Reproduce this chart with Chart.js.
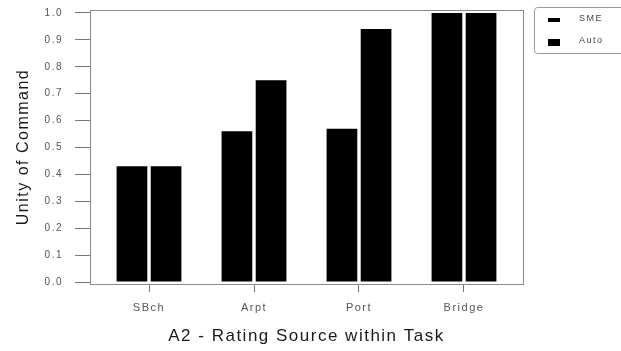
<!DOCTYPE html>
<html>
<head>
<meta charset="utf-8">
<script src="https://cdn.jsdelivr.net/npm/chart.js@4"></script>
<style>
  html, body { margin: 0; padding: 0; background: #fff; }
  #wrap { width: 621px; height: 351px; position: relative; }
</style>
</head>
<body>
<div id="wrap"><canvas id="chart"></canvas></div>
<script>
const categories = ['SBch', 'Arpt', 'Port', 'Bridge'];
const smeValues = [0.43, 0.56, 0.57, 1.0];
const autoValues = [0.43, 0.75, 0.94, 1.0];
const yTicks = [0, 0.1, 0.2, 0.3, 0.4, 0.5, 0.6, 0.7, 0.8, 0.9, 1.0];

const font = '"Liberation Sans", Arial, sans-serif';

// the scanned labels are loosely spaced
const spacingPlugin = {
    id: 'spacing',
    beforeDraw(chart) { chart.ctx.letterSpacing = '1.5px'; }
};

// grey frame round the plot area
const framePlugin = {
    id: 'frame',
    afterDraw(chart) {
        const a = chart.chartArea;
        const ctx = chart.ctx;
        ctx.save();
        ctx.strokeStyle = '#8a8a8a';
        ctx.lineWidth = 1;
        ctx.strokeRect(Math.round(a.left) + 0.5, Math.round(a.top) + 0.5,
            Math.round(a.right - a.left), Math.round(a.bottom - a.top));
        ctx.restore();
    }
};

// boxed legend at the top right, partly cut by the edge
const legendPlugin = {
    id: 'boxLegend',
    afterDraw(chart) {
        const ctx = chart.ctx;
        const x = chart.chartArea.right + 11;
        const y = 7;
        ctx.save();
        ctx.strokeStyle = '#9a9a9a';
        ctx.lineWidth = 1;
        ctx.beginPath();
        ctx.roundRect(x + 0.5, y + 0.5, 120, 46, 3);
        ctx.stroke();
        ctx.font = '9px ' + font;
        ctx.textBaseline = 'middle';
        const markH = [4, 7];
        chart.data.datasets.forEach((ds, i) => {
            const cy = y + 13 + i * 22;
            ctx.fillStyle = ds.backgroundColor;
            ctx.fillRect(x + 14, Math.round(cy - markH[i] / 2), 12, markH[i]);
            ctx.fillStyle = '#444';
            ctx.fillText(ds.label, x + 45, cy - 1);
        });
        ctx.restore();
    }
};

const ctx = document.getElementById('chart').getContext('2d');
new Chart(ctx, {
    type: 'bar',
    data: {
        labels: categories,
        datasets: [
            {
                label: 'SME',
                data: smeValues,
                backgroundColor: '#000',
                borderWidth: 0,
                categoryPercentage: 0.65,
                barPercentage: 0.9
            },
            {
                label: 'Auto',
                data: autoValues,
                backgroundColor: '#000',
                borderWidth: 0,
                categoryPercentage: 0.65,
                barPercentage: 0.9
            }
        ]
    },
    options: {
        responsive: true,
        maintainAspectRatio: false,
        animation: false,
        layout: { padding: { top: 10, right: 98, left: 0, bottom: 0 } },
        plugins: {
            legend: { display: false },
            tooltip: { enabled: false }
        },
        scales: {
            x: {
                border: { display: false },
                grid: { drawOnChartArea: false, offset: false, tickLength: 8, color: '#777' },
                ticks: { color: '#555', font: { family: font, size: 11 }, padding: 9 },
                title: {
                    display: true,
                    text: 'A2 - Rating Source within Task',
                    color: '#1a1a1a',
                    font: { family: font, size: 17 },
                    padding: { top: 0, bottom: 4 }
                },
                // a little more room at both ends than one half category
                afterBuildTicks(scale) {
                    scale._startValue = -0.562;
                    scale._valueRange = categories.length + 0.124;
                },
                afterFit(scale) { scale.height = 67; }
            },
            y: {
                min: -0.0074,
                max: 1.011,
                border: { display: false },
                grid: { drawOnChartArea: false, tickLength: 15, color: '#777' },
                ticks: {
                    color: '#555',
                    font: { family: font, size: 10 },
                    padding: 12,
                    callback: v => v.toFixed(1)
                },
                afterBuildTicks(scale) { scale.ticks = yTicks.map(v => ({ value: v })); },
                title: {
                    display: true,
                    text: 'Unity of Command',
                    color: '#1a1a1a',
                    font: { family: font, size: 16 },
                    padding: { top: 14, bottom: 0 }
                },
                afterFit(scale) {
                    scale.width = 90;
                    scale.paddingTop = 0;
                    scale.paddingBottom = 0;
                }
            }
        }
    },
    plugins: [spacingPlugin, framePlugin, legendPlugin]
});
</script>
</body>
</html>
